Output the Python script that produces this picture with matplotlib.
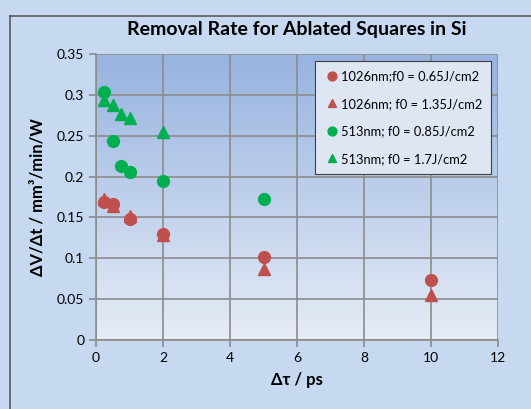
import numpy as np
import matplotlib.pyplot as plt
from matplotlib.colors import LinearSegmentedColormap

plt.rcParams['font.family'] = ['Lato', 'DejaVu Sans']

# pulse duration (ps) and removal rate (mm^3/min/W)
t_1026_a = [0.25, 0.5, 1, 2, 5, 10]
r_1026_a = [0.169, 0.166, 0.148, 0.130, 0.102, 0.073]

t_1026_b = [0.25, 0.5, 1, 2, 5, 10]
r_1026_b = [0.173, 0.164, 0.152, 0.129, 0.087, 0.055]

t_513_a = [0.25, 0.5, 0.75, 1, 2, 5]
r_513_a = [0.304, 0.244, 0.213, 0.205, 0.195, 0.173]

t_513_b = [0.25, 0.5, 0.75, 1, 2]
r_513_b = [0.294, 0.288, 0.277, 0.272, 0.255]

labels = ['1026nm;f0 = 0.65J/cm2', '1026nm; f0 = 1.35J/cm2',
          '513nm; f0 = 0.85J/cm2', '513nm; f0 = 1.7J/cm2']

red = '#c0504d'
green = '#00b050'
bg = '#c6d9f1'

fig = plt.figure(figsize=(5.31, 4.09), dpi=100, facecolor=bg)
ax = fig.add_axes([96/531, 1-340/409, (498-96)/531, (340-54)/409])

# outer chart border (only top and left show)
fig.add_artist(plt.Line2D([10/531, 10/531], [0, 1-16/409], color='#595959', lw=1.2))
fig.add_artist(plt.Line2D([10/531, 1], [1-16/409, 1-16/409], color='#595959', lw=1.2))

# gradient fill of the plot area
cmap = LinearSegmentedColormap.from_list('bg', ['#e6ecf6', '#97b3e0'])
grad = np.linspace(0, 1, 256).reshape(-1, 1)
ax.imshow(grad, extent=[0, 1, 0, 1], transform=ax.transAxes, cmap=cmap,
          origin='lower', aspect='auto', zorder=0)

ms = 8.5
ax.plot(t_1026_a, r_1026_a, 'o', color=red, ms=ms, label=labels[0], zorder=3)
ax.plot(t_1026_b, r_1026_b, '^', color=red, ms=ms, label=labels[1], zorder=3)
ax.plot(t_513_a, r_513_a, 'o', color=green, ms=ms, label=labels[2], zorder=3)
ax.plot(t_513_b, r_513_b, '^', color=green, ms=ms, label=labels[3], zorder=3)

ax.set_xlim(0, 12)
ax.set_ylim(0, 0.35)
ax.set_xticks(range(0, 13, 2))
ax.set_yticks(np.arange(0, 0.351, 0.05))
ax.set_yticklabels(['0', '0.05', '0.1', '0.15', '0.2', '0.25', '0.3', '0.35'])
ax.grid(True, color='#8c8c8c', lw=1.2, zorder=1)
ax.set_axisbelow(True)
for s in ['top', 'right']:
    ax.spines[s].set_visible(False)
for s in ['left', 'bottom']:
    ax.spines[s].set_color('#8c8c8c')
    ax.spines[s].set_linewidth(1.2)
ax.tick_params(colors='#8c8c8c', labelcolor='black', labelsize=10, length=5, width=1.2)

ax.set_title('Removal Rate for Ablated Squares in Si', fontsize=14,
             fontweight='bold', pad=14)
ax.set_xlabel('Δτ / ps', fontsize=12, fontweight='bold', labelpad=6)
ax.set_ylabel('ΔV/Δt / mm³/min/W', fontsize=12, fontweight='bold', labelpad=8)

leg = ax.legend(loc='upper right', bbox_to_anchor=(0.983, 0.975), fontsize=9.3,
                fancybox=False, framealpha=1, facecolor='#dfe6f3',
                edgecolor='#404040', handletextpad=0.0, handlelength=1.3,
                labelspacing=1.2, borderpad=0.7, borderaxespad=0.0,
                markerscale=0.75)
leg.get_frame().set_linewidth(0.8)

fig.savefig('out.png', dpi=100, facecolor=bg)
